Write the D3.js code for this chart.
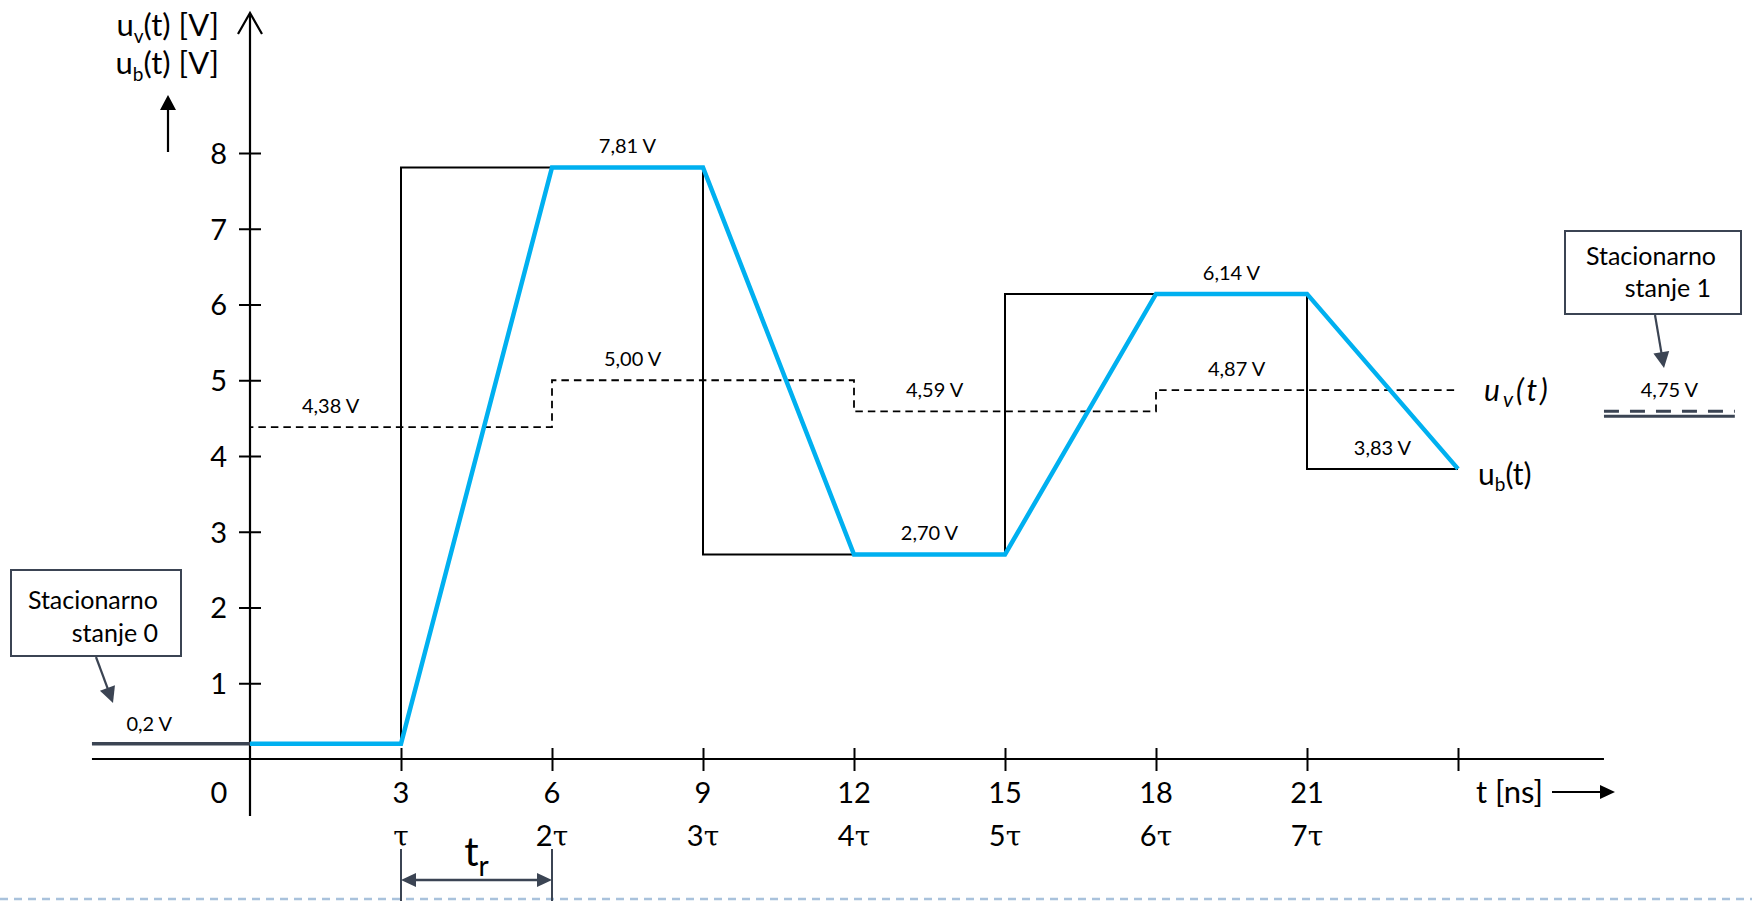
<!DOCTYPE html>
<html><head><meta charset="utf-8">
<script src="https://cdn.jsdelivr.net/npm/d3@7"></script>
<style>
body{margin:0;background:#fff}
svg{display:block;background:#fff}
text{font-family:Lato,"Open Sans",sans-serif;fill:#000}
</style></head><body>
<svg id="c" width="1752" height="901"></svg>
<script>
// ---------- data ----------
const timeTicks  = [3,6,9,12,15,18,21,24];
const timeLabels = ["3","6","9","12","15","18","21",""];
const tauLabels  = ["τ","2τ","3τ","4τ","5τ","6τ","7τ",""];
const voltTicks  = [1,2,3,4,5,6,7,8];
// u_b(t): line voltage at the receiver (blue)
const ubTimes  = [0,3,6,9,12,15,18,21,24];
const ubValues = [0.2,0.2,7.81,7.81,2.70,2.70,6.14,6.14,3.83];
// reflected-step levels (thin black)
const stepTimes  = [3,9,15,21,24];
const stepValues = [0.2,7.81,2.70,6.14,3.83];
// u_v(t) (dashed)
const uvTimes  = [0,0,6,12,18,24];
const uvValues = [0.2,4.38,5.00,4.59,4.87,4.87];
const stationary0 = 0.2;
const stationary1 = 4.75;
const axisExtent = [-3.14, 26.9];

// ---------- setup ----------
const svg = d3.select("#c");
const x = d3.scaleLinear().domain([0,24]).range([250,1458]);
const y = d3.scaleLinear().domain([0,8]).range([759,153]);
const loc = d3.formatLocale({decimal:",",thousands:".",grouping:[3],currency:["",""]});
const f2 = loc.format(".2f"), f1 = loc.format(".1f");
const DARK = "#3b4453", BLUE = "#00b0f0";

function tri(g, x1, y1, x2, y2, len, hw, col){
  const a = Math.atan2(y2-y1, x2-x1);
  const bx = x2 - len*Math.cos(a), by = y2 - len*Math.sin(a);
  const px = -Math.sin(a)*hw, py = Math.cos(a)*hw;
  g.append("path").attr("d",`M${x2},${y2}L${bx+px},${by+py}L${bx-px},${by-py}Z`).attr("fill",col);
}
function arrow(g, x1, y1, x2, y2, col, w, len, hw){
  const a = Math.atan2(y2-y1, x2-x1);
  g.append("line").attr("x1",x1).attr("y1",y1).attr("x2",x2-len*0.8*Math.cos(a)).attr("y2",y2-len*0.8*Math.sin(a))
    .attr("stroke",col).attr("stroke-width",w);
  tri(g,x1,y1,x2,y2,len,hw,col);
}

// bottom dashed separator
svg.append("line").attr("x1",0).attr("x2",1752).attr("y1",899).attr("y2",899)
  .attr("stroke","#a9c2dc").attr("stroke-width",2.5).attr("stroke-dasharray","8,6");

// ---------- axes ----------
svg.append("line").attr("x1",x(axisExtent[0])).attr("x2",x(axisExtent[1]))
  .attr("y1",y(0)).attr("y2",y(0)).attr("stroke","#000").attr("stroke-width",2);
const gx = svg.append("g").attr("transform",`translate(0,${y(0)})`)
  .call(d3.axisBottom(x).tickValues(timeTicks).tickSizeOuter(0).tickSizeInner(12).tickFormat(""));
gx.select(".domain").remove();
gx.selectAll(".tick line").attr("y1",-11).attr("y2",12).attr("stroke","#000").attr("stroke-width",2);
gx.selectAll(".tick text").remove();

const tl = svg.append("g");
tl.selectAll("text.n").data(timeTicks).join("text").attr("class","n")
  .attr("x",d=>x(d)).attr("y",y(0)+44).attr("text-anchor","middle").attr("font-size",29)
  .text((d,i)=>timeLabels[i]);
tl.append("text").attr("x",x(0)-31).attr("y",y(0)+44).attr("text-anchor","middle").attr("font-size",29).text("0");
tl.selectAll("text.t").data(timeTicks).join("text").attr("class","t")
  .attr("x",d=>x(d)).attr("y",y(0)+87).attr("text-anchor","middle").attr("font-size",29)
  .each(function(d,i){
    const s = tauLabels[i]; if(!s) return;
    const t = d3.select(this);
    if(s.length>1) t.append("tspan").text(s.slice(0,-1));
    t.append("tspan").attr("font-family","'DejaVu Serif','Liberation Serif',serif").attr("font-size",28).text("τ");
  });

// y axis
svg.append("line").attr("x1",x(0)).attr("x2",x(0)).attr("y1",816).attr("y2",14)
  .attr("stroke","#000").attr("stroke-width",2.2);
svg.append("path").attr("d",`M${x(0)-12},34L${x(0)},13L${x(0)+12},34`)
  .attr("fill","none").attr("stroke","#000").attr("stroke-width",2.2);
const gy = svg.append("g").attr("transform",`translate(${x(0)},0)`)
  .call(d3.axisLeft(y).tickValues(voltTicks).tickSizeOuter(0).tickSizeInner(11).tickPadding(12).tickFormat(d3.format("d")));
gy.select(".domain").remove();
gy.selectAll(".tick line").attr("x1",11).attr("stroke","#000").attr("stroke-width",2);
gy.selectAll(".tick text").attr("font-family","Lato,sans-serif").attr("font-size",29).attr("fill","#000").attr("dy","0.36em");

// y axis title
const yt = svg.append("g");
const t1 = yt.append("text").attr("x",219).attr("y",36).attr("text-anchor","end").attr("font-size",31);
t1.append("tspan").text("u"); t1.append("tspan").attr("font-size",19).attr("dy",7).text("v");
t1.append("tspan").attr("dy",-7).text("(t) [V]");
const t2 = yt.append("text").attr("x",219).attr("y",74).attr("text-anchor","end").attr("font-size",31);
t2.append("tspan").text("u"); t2.append("tspan").attr("font-size",19).attr("dy",7).text("b");
t2.append("tspan").attr("dy",-7).text("(t) [V]");
arrow(svg,168,152,168,95,"#000",2.2,15,8);

// t [ns]
svg.append("text").attr("x",1476).attr("y",y(0)+44).attr("font-size",31).text("t [ns]");
arrow(svg,1552,792,1615,792,"#000",2,15,7);

// ---------- data lines ----------
const stepPts = stepTimes.map((t,i)=>[t,stepValues[i]]);
svg.append("path").datum(stepPts)
  .attr("d",d3.line().x(d=>x(d[0])).y(d=>y(d[1])).curve(d3.curveStepBefore))
  .attr("fill","none").attr("stroke","#000").attr("stroke-width",2);

const uvPts = uvTimes.map((t,i)=>[t,uvValues[i]]);
svg.append("path").datum(uvPts)
  .attr("d",d3.line().x(d=>x(d[0])).y(d=>y(d[1])).curve(d3.curveStepAfter))
  .attr("fill","none").attr("stroke","#000").attr("stroke-width",1.8).attr("stroke-dasharray","7.5,5");

// stationary state 0 line
svg.append("line").attr("x1",x(axisExtent[0])).attr("x2",x(0)).attr("y1",y(stationary0)).attr("y2",y(stationary0))
  .attr("stroke",DARK).attr("stroke-width",3.5);

const ubPts = ubTimes.map((t,i)=>[t,ubValues[i]]);
svg.append("path").datum(ubPts)
  .attr("d",d3.line().x(d=>x(d[0])).y(d=>y(d[1])))
  .attr("fill","none").attr("stroke",BLUE).attr("stroke-width",4.5);

// ---------- value labels ----------
const vl = svg.append("g").attr("font-size",20).attr("text-anchor","middle");
const ubLab = [];
for(let i=1;i<ubTimes.length-1;i++) if(ubValues[i]===ubValues[i+1]) ubLab.push([(ubTimes[i]+ubTimes[i+1])/2, ubValues[i]]);
const nS = stepTimes.length;
ubLab.push([(stepTimes[nS-2]+stepTimes[nS-1])/2, stepValues[nS-1]]);
const uvLab = [];
for(let i=1;i<uvTimes.length-1;i++) uvLab.push([uvTimes[i]+1.6, uvValues[i]]);
vl.selectAll("text.a").data(ubLab.concat(uvLab)).join("text").attr("class","a")
  .attr("x",d=>x(d[0])).attr("y",d=>y(d[1])-14).text(d=>f2(d[1])+" V");
vl.append("text").attr("x",x(-2)).attr("y",y(stationary0)-13).text(f1(stationary0)+" V");

// curve names
const nv = svg.append("text").attr("x",1484).attr("y",401).attr("font-family","'DejaVu Serif',serif")
  .attr("font-style","italic").attr("font-size",30).attr("letter-spacing",3);
nv.append("tspan").text("u"); nv.append("tspan").attr("font-size",21).attr("dy",6).text("v");
nv.append("tspan").attr("dy",-6).text("(t)");
const nb = svg.append("text").attr("x",1478).attr("y",485).attr("font-size",30);
nb.append("tspan").text("u"); nb.append("tspan").attr("font-size",19).attr("dy",6).text("b");
nb.append("tspan").attr("dy",-6).text("(t)");

// ---------- stationary state annotations ----------
// state 0
svg.append("rect").attr("x",11).attr("y",570).attr("width",170).attr("height",86)
  .attr("fill","#fff").attr("stroke",DARK).attr("stroke-width",2);
svg.append("text").attr("x",158).attr("y",609).attr("text-anchor","end").attr("font-size",25).text("Stacionarno");
svg.append("text").attr("x",158).attr("y",642).attr("text-anchor","end").attr("font-size",25).text("stanje 0");
arrow(svg,96,657,113,703,DARK,2.2,16,8);

// state 1
svg.append("rect").attr("x",1565).attr("y",231).attr("width",176).attr("height",83)
  .attr("fill","#fff").attr("stroke",DARK).attr("stroke-width",2);
svg.append("text").attr("x",1651).attr("y",265).attr("text-anchor","middle").attr("font-size",25).text("Stacionarno");
svg.append("text").attr("x",1711).attr("y",297).attr("text-anchor","end").attr("font-size",25).text("stanje 1");
arrow(svg,1655,315,1664,368,DARK,2.2,16,8);
const s1x = [axisExtent[1], axisExtent[1]+2.6];
svg.append("text").attr("x",x((s1x[0]+s1x[1])/2)).attr("y",y(stationary1)-2).attr("text-anchor","middle")
  .attr("font-size",20).text(f2(stationary1)+" V");
svg.append("line").attr("x1",x(s1x[0])).attr("x2",x(s1x[1])).attr("y1",y(stationary1)+12).attr("y2",y(stationary1)+12)
  .attr("stroke",DARK).attr("stroke-width",3).attr("stroke-dasharray","15,11");
svg.append("line").attr("x1",x(s1x[0])).attr("x2",x(s1x[1])).attr("y1",y(stationary1)+17).attr("y2",y(stationary1)+17)
  .attr("stroke",DARK).attr("stroke-width",3);

// ---------- rise time dimension ----------
const dim = svg.append("g");
[3,6].forEach(t=>dim.append("line").attr("x1",x(t)).attr("x2",x(t)).attr("y1",849).attr("y2",901)
  .attr("stroke",DARK).attr("stroke-width",2));
dim.append("line").attr("x1",x(3)+10).attr("x2",x(6)-10).attr("y1",880).attr("y2",880).attr("stroke",DARK).attr("stroke-width",2.5);
tri(dim,x(6),880,x(3),880,15,7,DARK);
tri(dim,x(3),880,x(6),880,15,7,DARK);
const tr = dim.append("text").attr("x",x(4.5)).attr("y",866).attr("text-anchor","middle").attr("font-size",40);
tr.append("tspan").text("t"); tr.append("tspan").attr("font-size",28).attr("dy",10).text("r");
</script>
</body></html>
